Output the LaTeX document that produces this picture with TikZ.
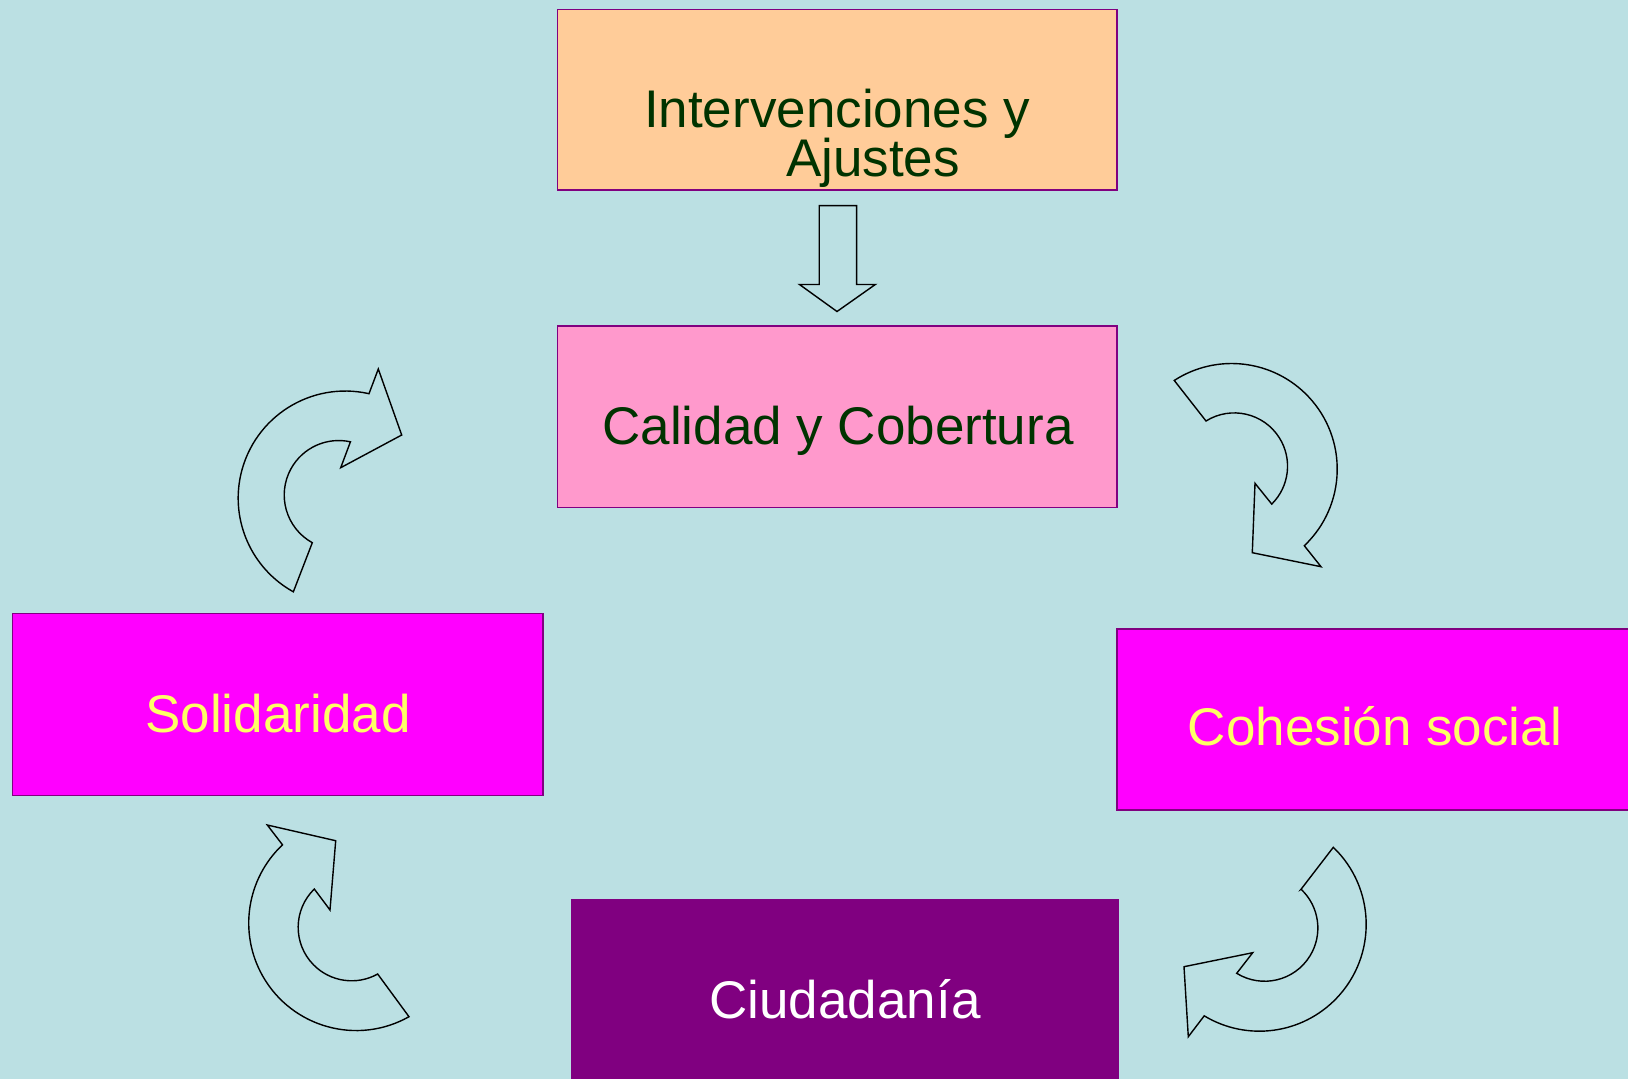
\documentclass[tikz,border=0pt]{standalone}
\usepackage{fontspec}
\setmainfont{Liberation Sans}
\definecolor{bgc}{HTML}{BBE0E3}
\definecolor{peach}{HTML}{FFCC99}
\definecolor{pinkc}{HTML}{FF99CC}
\definecolor{magc}{HTML}{FF00FF}
\definecolor{purc}{HTML}{800080}
\definecolor{dgreen}{HTML}{003300}
\definecolor{yelc}{HTML}{FFFF66}
\tikzset{
  box/.style={draw=purc, line width=1.5pt, inner sep=0pt, rectangle},
  lbl/.style={anchor=base, inner sep=0pt, font=\fontsize{53}{60}\selectfont},
  blockarrow/.style={draw=black, line width=1.4pt, line join=miter}
}
\begin{document}
\begin{tikzpicture}[x=1pt,y=-1pt]
\fill[bgc] (0,0) rectangle (1628,1079);
\useasboundingbox (0,0) rectangle (1628,1079);
% boxes
\node[box, fill=peach, minimum width=559.6pt, minimum height=180.7pt] (top) at (837.4,99.65) {};
\node[box, fill=pinkc, minimum width=559.6pt, minimum height=181.7pt] (cal) at (837.4,416.85) {};
\node[box, fill=magc, minimum width=530.5pt, minimum height=181.7pt] (sol) at (277.75,704.45) {};
\node[box, fill=magc, minimum width=522.8pt, minimum height=180.7pt] (coh) at (1378.6,719.55) {};
\node[box, fill=purc, minimum width=546pt, minimum height=190pt] (ciu) at (845,995) {};
% texts
\node[lbl, text=dgreen] (t1) at (837,127) {Intervenciones y};
\node[lbl, text=dgreen] (t2) at (873,176.5) {Ajustes};
\node[lbl, text=dgreen] (t3) at (838,444) {Calidad y Cobertura};
\node[lbl, text=yelc] (t4) at (278,732) {Solidaridad};
\node[lbl, text=yelc] (t5) at (1375,745.5) {Cohesión social};
\node[lbl, text=white] (t6) at (845,1018.5) {Ciudadanía};
% down block arrow
\draw[blockarrow] (819.2,205.6) -- (856.6,205.6) -- (856.6,284.5) -- (875.3,284.5)
  -- (837,311.5) -- (799.5,284.5) -- (819.2,284.5) -- cycle;
% top-left curved arrow
\draw[blockarrow] (369,393.7) arc[start angle=-77.2, end angle=-241, radius=107.1]
  -- (312.3,542.7) arc[start angle=-241, end angle=-77.6, radius=54.5]
  -- (340.7,467.7) -- (401.7,435) -- (378.3,369) -- cycle;
% top-right curved arrow
\draw[blockarrow] (1304.3,545.7) arc[start angle=46.5, end angle=-122.9, radius=105.6]
  -- (1206,421) arc[start angle=-122, end angle=45.3, radius=53.3]
  -- (1255,483.3) -- (1252.3,552.7) -- (1321,566.7) -- cycle;
% bottom-left curved arrow
\draw[blockarrow] (409,1016.7) arc[start angle=60.6, end angle=226.7, radius=107.5]
  -- (267.3,825) -- (335.7,840.7) -- (330,910) -- (314.3,889)
  arc[start angle=225.7, end angle=60.9, radius=53.5] -- cycle;
% bottom-right curved arrow
\draw[blockarrow] (1301,889.3) -- (1333.3,847.3) arc[start angle=-46.2, end angle=121.1, radius=106.8]
  -- (1188.3,1036.7) -- (1184,966.7) -- (1252.7,952.7) -- (1236.7,973.3)
  arc[start angle=121.7, end angle=-46.8, radius=53.2] -- cycle;
\end{tikzpicture}
\end{document}
